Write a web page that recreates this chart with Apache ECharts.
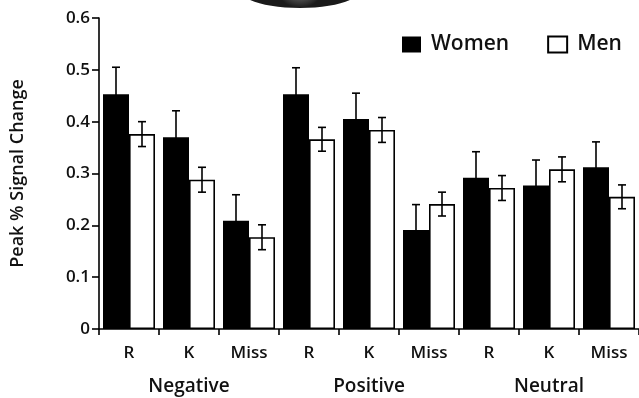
<!DOCTYPE html>
<html>
<head>
<meta charset="utf-8">
<script src="https://cdn.jsdelivr.net/npm/echarts@6/dist/echarts.min.js"></script>
<style>
html,body{margin:0;padding:0;background:#fff;}
#chart{width:639px;height:398px;}
</style>
</head>
<body>
<div id="chart"></div>
<script>
var categories = ['R', 'K', 'Miss', 'R', 'K', 'Miss', 'R', 'K', 'Miss'];
var groups = ['Negative', 'Positive', 'Neutral'];
var women = [0.453, 0.370, 0.209, 0.453, 0.405, 0.191, 0.292, 0.277, 0.312];
var womenErr = [0.052, 0.051, 0.050, 0.051, 0.050, 0.049, 0.050, 0.049, 0.049];
var men = [0.376, 0.288, 0.177, 0.366, 0.384, 0.241, 0.272, 0.308, 0.255];
var menErr = [0.024, 0.024, 0.024, 0.023, 0.024, 0.023, 0.024, 0.024, 0.023];
var yTicks = [0, 0.1, 0.2, 0.3, 0.4, 0.5, 0.6];

var FONT = 'Open Sans';
var FW = 600;
var BAR_W = 26;

function errData(vals, errs) {
  return vals.map(function (v, i) { return [i, v, errs[i]]; });
}
function errRender(side) {
  return function (params, api) {
    var i = api.value(0), v = api.value(1), e = api.value(2);
    var top = api.coord([i, v + e]);
    var bot = api.coord([i, v - e]);
    var x = top[0] + side * BAR_W / 2;
    var cap = 4;
    var st = { stroke: '#000', lineWidth: 1.6 };
    return {
      type: 'group',
      children: [
        { type: 'line', shape: { x1: x, y1: top[1], x2: x, y2: bot[1] }, style: st },
        { type: 'line', shape: { x1: x - cap, y1: top[1], x2: x + cap, y2: top[1] }, style: st },
        { type: 'line', shape: { x1: x - cap, y1: bot[1], x2: x + cap, y2: bot[1] }, style: st }
      ]
    };
  };
}

var chart = echarts.init(document.getElementById('chart'), null, { renderer: 'canvas' });
chart.setOption({
  animation: false,
  backgroundColor: '#fff',
  textStyle: { fontFamily: FONT, color: '#111', fontWeight: FW },
  graphic: [{
    type: 'ellipse',
    shape: { cx: 300, cy: -10, rx: 60, ry: 18 },
    style: {
      fill: new echarts.graphic.RadialGradient(0.5, 0.3, 0.7, [
        { offset: 0, color: '#777' },
        { offset: 0.7, color: '#444' },
        { offset: 1, color: '#1a1a1a' }
      ])
    },
    silent: true
  }],
  legend: {
    left: 397, top: 29,
    itemWidth: 19, itemHeight: 16, itemGap: 38,
    icon: 'rect',
    textStyle: { fontFamily: FONT, fontWeight: FW, fontSize: 21, color: '#111', padding: [0, 0, 0, 5] },
    data: ['Women', 'Men']
  },
  grid: { left: 99, top: 18, width: 540, height: 311, containLabel: false },
  xAxis: [{
    type: 'category',
    data: categories,
    axisLine: { lineStyle: { color: '#000', width: 1.6 } },
    axisTick: { show: true, length: 6, lineStyle: { color: '#000', width: 1.6 } },
    axisLabel: { fontFamily: FONT, fontWeight: FW, fontSize: 17, color: '#111', margin: 16 }
  }, {
    type: 'category',
    data: groups,
    position: 'bottom',
    offset: 0,
    axisLine: { show: false },
    axisTick: { show: false },
    axisLabel: { fontFamily: FONT, fontWeight: FW, fontSize: 19, color: '#111', margin: 48 }
  }],
  yAxis: {
    type: 'value',
    min: 0, max: 0.6, interval: 0.1,
    name: 'Peak % Signal Change',
    nameLocation: 'middle',
    nameGap: 72,
    nameTextStyle: { fontFamily: FONT, fontWeight: FW, fontSize: 18, color: '#111' },
    axisLine: { show: true, lineStyle: { color: '#000', width: 1.6 } },
    axisTick: { show: true, length: 7, lineStyle: { color: '#000', width: 1.6 } },
    axisLabel: { fontFamily: FONT, fontWeight: FW, fontSize: 17, color: '#111', margin: 9,
      formatter: function (v) { return yTicks.indexOf(+v.toFixed(1)) >= 0 ? String(+v.toFixed(1)) : ''; } },
    splitLine: { show: false }
  },
  series: [{
    name: 'Women', type: 'bar', xAxisIndex: 0,
    data: women, barWidth: BAR_W, barGap: '0%',
    itemStyle: { color: '#000' }
  }, {
    name: 'Men', type: 'bar', xAxisIndex: 0,
    data: men, barWidth: BAR_W, barGap: '0%',
    itemStyle: { color: '#fff', borderColor: '#000', borderWidth: 1.6 }
  }, {
    type: 'custom', xAxisIndex: 0, z: 10,
    renderItem: errRender(-1),
    data: errData(women, womenErr)
  }, {
    type: 'custom', xAxisIndex: 0, z: 10,
    renderItem: errRender(1),
    data: errData(men, menErr)
  }]
});
</script>
</body>
</html>
